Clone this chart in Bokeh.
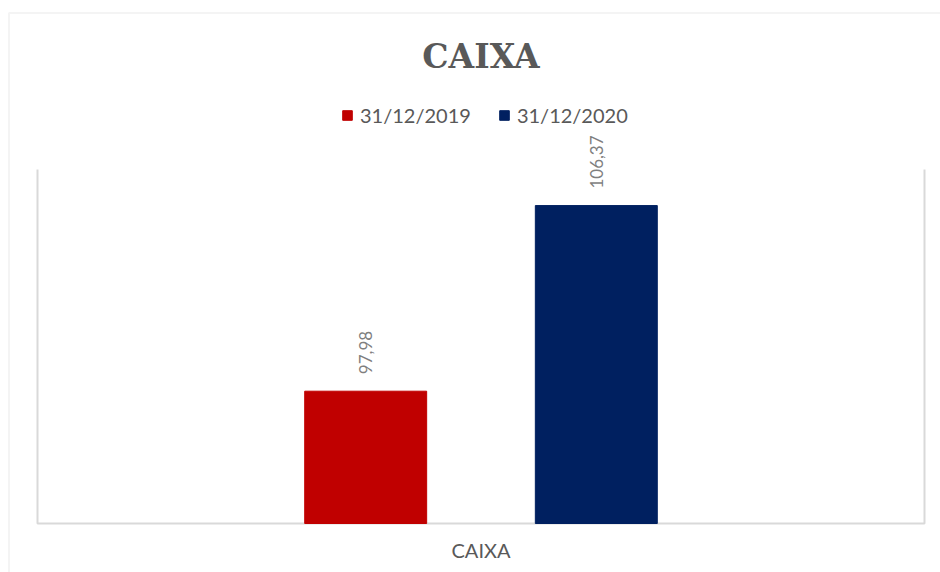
import numpy as np
from bokeh.plotting import figure
from bokeh.models import (ColumnDataSource, Range1d, LabelSet, Label,
                          Legend, LegendItem, BoxAnnotation)
from bokeh.transform import dodge
from bokeh.core.properties import value
from bokeh.embed import file_html
from bokeh.resources import INLINE

# ---- data ----
categories = ["CAIXA"]
series_names = ["31/12/2019", "31/12/2020"]
series_values = [97.98, 106.37]
series_colors = ["#C00000", "#002060"]
y_axis_min, y_axis_max = 92, 108
chart_title = "CAIXA"

# ---- layout (pixels) ----
W, H = 940, 572
AREA_L, AREA_R = 37, 924      # plot-area edges (px)
AREA_T, AREA_B = 169, 523

GREY_LINE = "#d9d9d9"
GREY_TEXT = "#595959"
LABEL_GREY = "#7f7f7f"

cat_pos = list(range(len(categories)))
band_lo = cat_pos[0] - 0.5
band_hi = cat_pos[-1] + 0.5

xpp = (AREA_R - AREA_L) / (band_hi - band_lo)
ypp = (AREA_B - AREA_T) / (y_axis_max - y_axis_min)
x_range = Range1d(band_lo - AREA_L / xpp, band_hi + (W - AREA_R) / xpp)
y_range = Range1d(y_axis_min - (H - AREA_B) / ypp, y_axis_max + AREA_T / ypp)

p = figure(width=W, height=H, x_range=x_range, y_range=y_range,
           x_axis_location=None, y_axis_location=None,
           output_backend="svg", toolbar_location=None,
           min_border=0)
p.xgrid.visible = False
p.ygrid.visible = False
p.outline_line_color = None
p.background_fill_color = "white"
p.border_fill_color = "white"

# plot-area frame: left, bottom and right edges
p.multi_line(xs=[[band_lo, band_lo, band_hi, band_hi]],
             ys=[[y_axis_max, y_axis_min, y_axis_min, y_axis_max]],
             line_color=GREY_LINE, line_width=2)

offsets = [-0.13, 0.13]
bar_width = 0.1375
items = []
for name, val, col, off in zip(series_names, series_values, series_colors, offsets):
    src = ColumnDataSource(dict(x=cat_pos, top=[val],
                                label=[f"{val:.2f}".replace(".", ",")]))
    r = p.vbar(x=dodge("x", off), top="top", bottom=y_axis_min,
               width=bar_width, source=src, fill_color=col, line_color=col)
    items.append(LegendItem(label=name, renderers=[r]))
    labels = LabelSet(x=dodge("x", off), y="top", text="label",
                      source=src, angle=np.pi / 2, text_align="left",
                      text_baseline="middle", y_offset=17,
                      text_font=value("Lato"), text_font_size="17px",
                      text_color=LABEL_GREY)
    p.add_layout(labels)

# category label under the plot area
cat_src = ColumnDataSource(dict(x=cat_pos, y=[y_axis_min] * len(cat_pos), t=categories))
p.add_layout(LabelSet(x="x", y="y", text="t", source=cat_src, y_offset=-34,
                      text_align="center", text_baseline="alphabetic",
                      text_font=value("Lato"), text_font_size="20px",
                      text_color=GREY_TEXT))

legend = Legend(items=items, orientation="horizontal", location=(341, 445),
                glyph_width=12, glyph_height=12, label_standoff=7, spacing=27,
                padding=0, margin=0, border_line_color=None,
                background_fill_alpha=0, label_text_font="Lato",
                label_text_font_size="20px", label_text_color=GREY_TEXT)
p.add_layout(legend)

title = Label(x=(band_lo + band_hi) / 2, y=56, y_units="canvas", text=chart_title,
              text_align="center", text_baseline="alphabetic",
              text_font="DejaVu Serif", text_font_style="bold",
              text_font_size="33px", text_color=GREY_TEXT)
p.add_layout(title)

outer = BoxAnnotation(left=8.5, right=3000, top=12.5, bottom=3000,
                      left_units="canvas", right_units="canvas",
                      top_units="canvas", bottom_units="canvas",
                      fill_alpha=0, line_color=GREY_LINE, line_width=2,
                      level="overlay")
p.add_layout(outer)

open("out.html", "w").write(file_html(p, INLINE))
